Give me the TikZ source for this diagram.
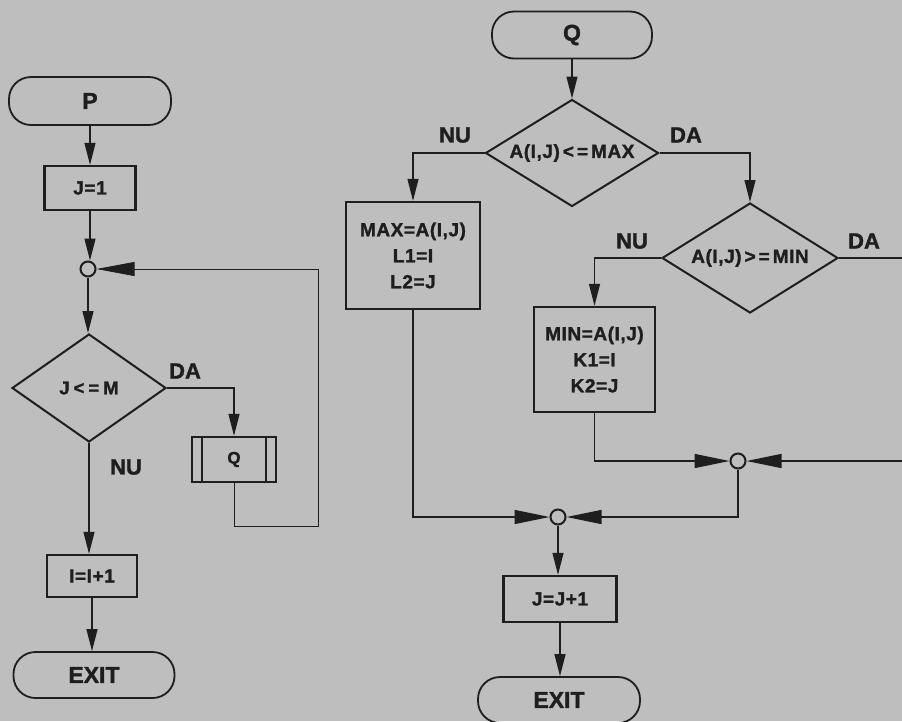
\documentclass[tikz,border=0pt]{standalone}
\usepackage{fontspec}
\setmainfont{Liberation Sans}[BoldFont={Liberation Sans Bold}]
\newfontfamily\boxfont{Liberation Sans Bold}[LetterSpace=3,FakeBold=1.5]
\newfontfamily\heavyfont{Liberation Sans Bold}[FakeBold=1.5]
\usetikzlibrary{shapes.geometric,arrows.meta,calc}
\definecolor{paper}{RGB}{190,190,190}
\definecolor{ink}{RGB}{30,30,30}
\newcommand{\gapk}{\kern3pt}
\begin{document}
\begin{tikzpicture}[x=1pt,y=-1pt,
  term/.style={draw=ink, line width=1.8pt, rectangle, rounded corners=22pt, inner sep=0pt,
               font=\heavyfont\fontsize{23}{26}\selectfont, text=ink},
  box/.style={draw=ink, line width=2.4pt, rectangle, inner sep=0pt, align=center,
              font=\boxfont\fontsize{19}{26}\selectfont, text=ink},
  dia/.style={draw=ink, line width=2pt, diamond, inner sep=0pt,
              font=\boxfont\fontsize{19}{22}\selectfont, text=ink},
  junc/.style={circle, draw=ink, fill=paper, line width=2pt, minimum size=15pt, inner sep=0pt},
  conn/.style={draw=ink, line width=1.3pt},
  arr/.style={conn, -{Triangle[length=22pt,width=11pt]}},
  harr/.style={conn, -{Triangle[length=35pt,width=14pt]}},
  lab/.style={font=\heavyfont\fontsize{22}{24}\selectfont, text=ink}]
\useasboundingbox (0,0) rectangle (902,721);
\fill[paper] (0,0) rectangle (902,721);
\clip (0,0) rectangle (902,721);

% ---------------- left flowchart ----------------
\node[term, minimum width=162pt, minimum height=48pt] (P) at (90,101) {P};
\node[box, minimum width=91pt, minimum height=44pt] (J1) at (90,188) {J=1};
\node[junc] (c1) at (88,269) {};
\node[dia, shape aspect=1.43, minimum width=154pt, minimum height=108pt,
      font=\boxfont\fontsize{18.5}{20}\selectfont] (D1) at (89,388) {J\kern4pt<\kern4pt=\kern4pt M};
\node[box, minimum width=84pt, minimum height=45pt, font=\boxfont\fontsize{17}{20}\selectfont] (Qs) at (234,459.5) {Q};
\draw[ink, line width=2pt] ($(Qs.north west)+(11,0)$) -- ($(Qs.south west)+(11,0)$);
\draw[ink, line width=2pt] ($(Qs.north east)+(-11,0)$) -- ($(Qs.south east)+(-11,0)$);
\node[box, minimum width=90pt, minimum height=42pt] (I1) at (92,576) {I=I+1};
\node[term, minimum width=161pt, minimum height=46pt] (E1) at (94,675) {EXIT};
\coordinate (lp) at (318,526);

\node[lab] (daL) at (185,371) {DA};
\node[lab] (nuL) at (126,467) {NU};

\draw[arr] (P.south) -- (P.south |- J1.north);
\draw[arr] (J1.south) -- (J1.south |- c1.north);
\draw[arr] (c1.south) -- (c1.south |- D1.north);
\draw[arr] (D1.east) -| (Qs.north);
\draw[arr] (D1.south) -- (D1.south |- I1.north);
\draw[arr] (I1.south) -- (I1.south |- E1.north);
\draw[draw=ink, line width=0.8pt, -{Triangle[length=38pt,width=14pt]}] (Qs.south) |- (lp) |- (c1.east);

% ---------------- right flowchart ----------------
\node[term, minimum width=160pt, minimum height=47pt] (Qt) at (572,35) {Q};
\node[dia, shape aspect=1.62, minimum width=173pt, minimum height=107pt] (D2) at (572,153) {A(I,J)\gapk<\gapk=\gapk MAX};
\node[box, minimum width=134pt, minimum height=107pt] (MAX) at (413,255.5) {MAX=A(I,J)\\L1=I\\L2=J};
\node[dia, shape aspect=1.6, minimum width=176pt, minimum height=110pt] (D3) at (750,258) {A(I,J)\gapk>\gapk=\gapk MIN};
\node[box, minimum width=121pt, minimum height=105pt] (MIN) at (594.5,359.5) {MIN=A(I,J)\\K1=I\\K2=J};
\node[junc] (c2) at (738,461) {};
\node[junc] (c3) at (558,517) {};
\node[box, minimum width=113pt, minimum height=46pt] (JJ) at (560,599) {J=J+1};
\node[term, minimum width=162pt, minimum height=46pt] (E2) at (559,700) {EXIT};
\coordinate (re) at (915,258);

\node[lab] (nu2) at (455,135) {NU};
\node[lab] (da2) at (686,135) {DA};
\node[lab] (nu3) at (632,241) {NU};
\node[lab] (da3) at (864,241) {DA};

\draw[arr] (Qt.south) -- (Qt.south |- D2.north);
\draw[arr] (D2.west) -| (MAX.north);
\draw[arr] (D2.east) -| (D3.north);
\draw[arr] (D3.west) -| (MIN.north);
\draw[harr] (D3.east) -- (re) |- (c2.east);
\draw[harr] (MIN.south) |- (c2.west);
\draw[harr] (c2.south) |- (c3.east);
\draw[harr] (MAX.south) |- (c3.west);
\draw[arr] (c3.south) -- (c3.south |- JJ.north);
\draw[arr] (JJ.south) -- (JJ.south |- E2.north);
\end{tikzpicture}
\end{document}
